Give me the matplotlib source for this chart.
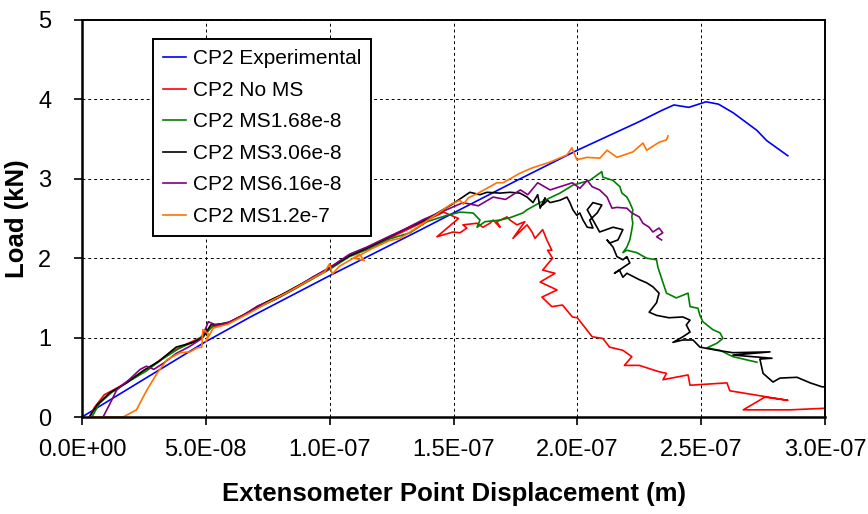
import matplotlib
matplotlib.use("Agg")
import matplotlib.pyplot as plt
from matplotlib.ticker import FuncFormatter, MultipleLocator
import numpy as np

plt.rcParams["font.family"] = ["Liberation Sans", "DejaVu Sans"]

# x values are in units of 1e-8 m, y values in kN
X_UNIT = 1e-8

exp_x = [0, 2.0, 5.0, 6.8, 10.0, 13.5, 15.0, 17.5, 20.0, 22.5, 23.4, 23.9, 24.5, 25.2,
         25.7, 26.3, 27.25, 27.65, 28.5]
exp_y = [0, 0.38, 0.95, 1.26, 1.78, 2.33, 2.57, 2.97, 3.36, 3.72, 3.86, 3.93, 3.90, 3.97,
         3.94, 3.83, 3.61, 3.48, 3.29]

nom_x = [0.3, 0.5, 0.9, 1.5, 2.2, 2.9, 3.6, 4.3, 4.8, 5.2, 5.8, 6.6, 7.4, 8.2, 9.0, 9.8,
         10.6, 11.4, 12.2, 13.0, 13.8, 14.6, 15.2, 14.33, 14.98, 15.26, 15.54, 15.38, 15.95,
         16.19, 16.47, 16.6, 16.88, 16.75, 17.16, 17.28, 17.56, 17.88, 17.4, 17.97, 18.17,
         18.29, 18.6, 18.77, 18.97, 18.8, 19.0, 18.6, 19.1, 18.5, 19.18, 18.57, 18.97, 19.4,
         19.8, 20.0, 20.6, 21.03, 21.3, 21.84, 22.2, 21.9, 22.5, 23.3, 23.6, 23.46, 24.47,
         24.55, 26.04, 26.16, 28.5, 27.57, 26.7, 28.58, 30.0]
nom_y = [0, 0.12, 0.28, 0.38, 0.52, 0.66, 0.82, 0.93, 1.0, 1.13, 1.17, 1.30, 1.44, 1.56,
         1.70, 1.84, 2.0, 2.12, 2.22, 2.34, 2.46, 2.58, 2.50, 2.27, 2.33, 2.32, 2.38, 2.42,
         2.44, 2.39, 2.44, 2.48, 2.39, 2.46, 2.52, 2.48, 2.42, 2.46, 2.25, 2.42, 2.33, 2.25,
         2.36, 2.23, 2.10, 2.10, 2.00, 1.85, 1.81, 1.70, 1.60, 1.51, 1.39, 1.41, 1.26, 1.25,
         1.01, 0.99, 0.88, 0.84, 0.76, 0.65, 0.65, 0.57, 0.55, 0.47, 0.53, 0.40, 0.43, 0.33,
         0.21, 0.25, 0.09, 0.09, 0.11]

ms168_x = [0.4, 0.7, 1.2, 1.9, 2.6, 3.2, 3.9, 4.6, 5.0, 5.3, 6.0, 6.8, 7.6, 8.4, 9.2, 10.0,
           10.8, 11.6, 12.4, 13.24, 13.93, 14.74, 15.26, 15.79, 16.07, 15.95, 16.27, 16.88,
           17.28, 17.8, 17.97, 18.49, 19.3, 19.82, 20.5, 20.99, 21.03, 21.44, 21.72, 21.8,
           22.0, 22.12, 22.24, 22.2, 22.24, 22.2, 22.12, 22.0, 21.84, 22.0, 22.4, 22.8, 23.2,
           23.25, 23.46, 23.6, 24.0, 24.47, 24.55, 24.87, 24.95, 25.07, 25.35, 25.47, 25.76,
           25.88, 25.64, 25.23, 25.76, 26.28, 27.25]
ms168_y = [0, 0.17, 0.31, 0.45, 0.58, 0.72, 0.86, 0.96, 1.05, 1.15, 1.20, 1.33, 1.45, 1.58,
           1.72, 1.86, 2.02, 2.12, 2.24, 2.32, 2.46, 2.54, 2.58, 2.57, 2.48, 2.39, 2.46, 2.48,
           2.51, 2.57, 2.61, 2.70, 2.82, 2.92, 2.98, 3.09, 3.02, 2.98, 2.90, 2.82, 2.77, 2.70,
           2.61, 2.52, 2.44, 2.36, 2.23, 2.14, 2.07, 2.10, 2.07, 2.00, 1.98, 1.89, 1.69, 1.56,
           1.50, 1.56, 1.39, 1.37, 1.28, 1.20, 1.13, 1.10, 1.06, 0.99, 0.93, 0.87, 0.84, 0.76,
           0.69]

ms306_x = [0.3, 0.6, 1.1, 1.8, 2.5, 3.1, 3.8, 4.5, 4.9, 5.2, 5.9, 6.7, 7.2, 8.0, 9.0, 10.0,
           10.8, 11.6, 12.3, 13.0, 13.7, 14.3, 14.9, 15.66, 16.07, 16.35, 16.88, 17.28, 17.68,
           17.97, 18.21, 18.4, 18.5, 18.7, 18.6, 18.8, 18.9, 19.3, 19.58, 19.7, 19.82, 19.98,
           20.1, 20.23, 20.4, 20.63, 20.5, 20.8, 20.99, 20.63, 20.4, 20.9, 21.44, 21.84, 21.64,
           21.3, 21.2, 21.44, 21.6, 21.84, 22.0, 22.12, 21.5, 21.7, 21.84, 22.0, 22.5, 22.8,
           23.05, 23.3, 23.2, 22.9, 23.2, 23.7, 24.26, 24.55, 24.4, 24.55, 24.26, 23.86, 24.26,
           24.67, 24.95, 25.64, 26.28, 27.78, 26.28, 27.86, 27.37, 27.5, 27.9, 28.18, 28.87,
           29.4, 29.88, 30.0]
ms306_y = [0, 0.15, 0.30, 0.43, 0.59, 0.70, 0.88, 0.94, 1.01, 1.16, 1.18, 1.31, 1.41, 1.53,
           1.70, 1.88, 2.03, 2.14, 2.25, 2.36, 2.46, 2.56, 2.67, 2.83, 2.80, 2.83, 2.82, 2.83,
           2.82, 2.77, 2.70, 2.80, 2.63, 2.76, 2.67, 2.73, 2.70, 2.73, 2.77, 2.70, 2.61, 2.54,
           2.57, 2.48, 2.39, 2.38, 2.48, 2.57, 2.67, 2.70, 2.61, 2.33, 2.39, 2.36, 2.23, 2.19,
           2.23, 2.14, 2.02, 1.98, 2.02, 1.94, 1.81, 1.85, 1.76, 1.81, 1.73, 1.69, 1.64, 1.56,
           1.44, 1.32, 1.28, 1.25, 1.26, 1.22, 1.16, 1.07, 1.01, 0.94, 0.97, 0.97, 0.88, 0.84,
           0.81, 0.82, 0.78, 0.74, 0.73, 0.55, 0.44, 0.49, 0.50, 0.43, 0.38, 0.38]

ms616_x = [0.85, 1.1, 1.4, 1.9, 2.35, 2.6, 2.9, 3.3, 3.8, 4.3, 4.8, 5.0, 5.1, 5.4, 5.9, 6.5,
           7.1, 7.8, 8.6, 9.3, 10.0, 10.8, 11.5, 12.3, 13.0, 13.8, 14.5, 15.38, 16.0, 16.6,
           17.1, 17.7, 18.0, 18.4, 18.9, 19.3, 19.8, 20.1, 20.4, 20.6, 20.9, 21.2, 21.3, 21.4,
           21.6, 22.0, 22.2, 22.5, 22.65, 22.9, 23.05, 23.3, 23.45, 23.2, 23.4]
ms616_y = [0, 0.15, 0.34, 0.47, 0.60, 0.64, 0.60, 0.68, 0.80, 0.88, 0.98, 1.12, 1.20, 1.16,
           1.19, 1.28, 1.40, 1.48, 1.62, 1.76, 1.88, 2.05, 2.14, 2.26, 2.36, 2.49, 2.58, 2.70,
           2.66, 2.77, 2.74, 2.86, 2.80, 2.95, 2.86, 2.90, 2.95, 2.88, 2.98, 2.90, 2.86, 2.77,
           2.70, 2.63, 2.64, 2.63, 2.57, 2.52, 2.44, 2.39, 2.33, 2.38, 2.32, 2.27, 2.23]

ms12_x = [0.3, 1.66, 2.2, 2.62, 3.03, 3.43, 3.96, 4.36, 4.64, 4.84, 4.88, 5.1, 5.0, 5.3, 5.9,
          6.7, 7.5, 8.3, 9.1, 9.8, 10.0, 10.1, 10.4, 10.9, 11.2, 11.4, 11.0, 11.7, 12.4, 12.84,
          13.6, 14.3, 14.9, 15.26, 15.4, 15.6, 16.0, 16.75, 17.0, 17.68, 18.2, 18.9, 19.58,
          19.78, 19.98, 20.39, 20.91, 21.2, 21.6, 22.25, 22.65, 22.8, 23.3, 23.6, 23.66]
ms12_y = [0, 0, 0.09, 0.34, 0.55, 0.72, 0.81, 0.82, 0.87, 0.88, 1.10, 1.05, 0.95, 1.12, 1.17,
          1.30, 1.44, 1.57, 1.71, 1.83, 1.93, 1.80, 1.90, 1.99, 2.05, 1.97, 2.00, 2.12, 2.22,
          2.25, 2.40, 2.55, 2.68, 2.73, 2.68, 2.76, 2.82, 2.95, 2.95, 3.07, 3.14, 3.21, 3.30,
          3.39, 3.24, 3.27, 3.26, 3.36, 3.27, 3.34, 3.45, 3.36, 3.46, 3.49, 3.54]

series = [
    ("CP2 Experimental", exp_x, exp_y, "#0000ff"),
    ("CP2 No MS", nom_x, nom_y, "#ff0000"),
    ("CP2 MS1.68e-8", ms168_x, ms168_y, "#008000"),
    ("CP2 MS3.06e-8", ms306_x, ms306_y, "#000000"),
    ("CP2 MS6.16e-8", ms616_x, ms616_y, "#800080"),
    ("CP2 MS1.2e-7", ms12_x, ms12_y, "#ff7300"),
]

fig = plt.figure(figsize=(8.68, 5.14), dpi=100)
ax = fig.add_axes([82 / 868, 97 / 514, 743 / 868, 397 / 514])

for label, xs, ys, col in series:
    ax.plot(np.array(xs) * X_UNIT, ys, color=col, lw=1.2, label=label)

ax.set_xlim(0, 3e-7)
ax.set_ylim(0, 5)
ax.xaxis.set_major_locator(MultipleLocator(5e-8))
ax.yaxis.set_major_locator(MultipleLocator(1))
ax.xaxis.set_major_formatter(FuncFormatter(lambda v, p: "%.1E" % v))
ax.grid(True, color="black", linestyle=(0, (3, 3)), lw=0.7)

for side in ["left", "bottom"]:
    ax.spines[side].set_linewidth(1.8)
for side in ["right", "top"]:
    ax.spines[side].set_linewidth(1.4)
ax.tick_params(direction="out", length=6, width=1.2, labelsize=17)
ax.tick_params(axis="x", pad=10)
ax.tick_params(axis="y", pad=16)

ax.set_xlabel("Extensometer Point Displacement (m)", fontsize=18.5, fontweight="bold", labelpad=15)
ax.set_ylabel("Load (kN)", fontsize=18.5, fontweight="bold", labelpad=7)

leg = ax.legend(loc="upper left", bbox_to_anchor=(0.0956, 0.952), borderaxespad=0,
                fontsize=15, frameon=True, fancybox=False, framealpha=1,
                edgecolor="black", handlelength=1.1, handletextpad=0.3,
                labelspacing=0.6, borderpad=0.5)
leg.get_frame().set_linewidth(1.4)

fig.savefig("out.png", dpi=100)
